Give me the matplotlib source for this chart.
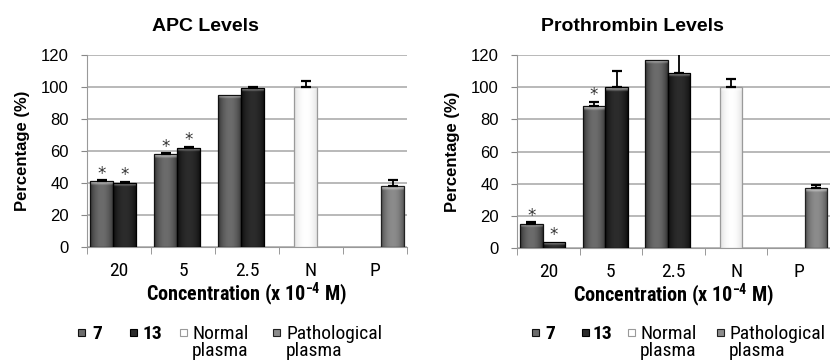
import numpy as np
import matplotlib
matplotlib.use('Agg')
import matplotlib.pyplot as plt
from matplotlib.patches import Rectangle
from matplotlib import font_manager

plt.rcParams['font.family'] = ['Liberation Sans', 'DejaVu Sans']

# pick a narrow face, like Arial Narrow in the original
NARROW_NAME = 'DejaVu Sans'
for name in ['Liberation Sans Narrow', 'Arial Narrow', 'Roboto Condensed', 'Archivo Narrow',
             'Asap Condensed', 'Open Sans Condensed']:
    try:
        font_manager.findfont(font_manager.FontProperties(family=name), fallback_to_default=False)
        NARROW_NAME = name
        break
    except ValueError:
        pass
NARROW = [NARROW_NAME, 'DejaVu Sans']

plt.rcParams['mathtext.fontset'] = 'custom'
plt.rcParams['mathtext.rm'] = NARROW_NAME + ':bold'
plt.rcParams['mathtext.it'] = NARROW_NAME + ':bold'
plt.rcParams['mathtext.bf'] = NARROW_NAME + ':bold'

# data
categories = ['20', '5', '2.5', 'N', 'P']

apc_7 = [41, 58, 95, None, None]
apc_7_err = [1, 0.6, 0, 0, 0]
apc_13 = [40, 62, 99.5, None, None]
apc_13_err = [0.8, 0.8, 0.3, 0, 0]
apc_normal = [None, None, None, 100, None]
apc_normal_err = [0, 0, 0, 3.5, 0]
apc_patho = [None, None, None, None, 38]
apc_patho_err = [0, 0, 0, 0, 4]
apc_7_sig = [True, True, False, False, False]
apc_13_sig = [True, True, False, False, False]

pro_7 = [15, 88, 117, None, None]
pro_7_err = [1, 3, 0, 0, 0]
pro_13 = [4, 100, 109, None, None]
pro_13_err = [0, 10, 13, 0, 0]
pro_normal = [None, None, None, 100, None]
pro_normal_err = [0, 0, 0, 5, 0]
pro_patho = [None, None, None, None, 37]
pro_patho_err = [0, 0, 0, 0, 2]
pro_7_sig = [True, True, False, False, False]
pro_13_sig = [True, False, False, False, False]

# series styling: (offset, center colour, edge colour, outline)
styles = {
    '7': (-0.27, '#6c6c6c', '#2c2c2c', '#111111'),
    '13': (0.09, '#2c2c2c', '#0a0a0a', '#000000'),
    'normal': (-0.08, '#ffffff', '#dcdcdc', '#9a9a9a'),
    'patho': (0.28, '#8c8c8c', '#474747', '#222222'),
}
BW = 0.36


def hex2rgb(h):
    return np.array(matplotlib.colors.to_rgb(h))


def shaded_bar(ax, x, h, center, edge, outline):
    bar = ax.bar(x, h, BW, color=center, linewidth=0, zorder=3)[0]
    t = np.linspace(0, 1, 60)
    f = np.sin(np.pi * t) ** 0.7
    c0, c1 = hex2rgb(edge), hex2rgb(center)
    row = c0[None, :] + (c1 - c0)[None, :] * f[:, None]
    nrow = 200
    ys = np.linspace(h, 0, nrow)
    img = np.repeat(row[None, :, :], nrow, axis=0)
    # light bevel at the top of each bar
    hl = np.clip(1 - (h - ys) / 2.6, 0, 1) * 0.75
    img = img + (1 - img) * hl[:, None, None]
    im = ax.imshow(img, extent=(x - BW / 2, x + BW / 2, 0, h), aspect='auto',
                   interpolation='bilinear', zorder=3.1)
    im.set_clip_path(bar)
    ax.bar(x, h, BW, facecolor='none', edgecolor=outline, linewidth=0.9, zorder=3.2)


def draw_panel(ax, title, series, sigs):
    xs = np.arange(len(categories))
    for key, vals, errs in series:
        off, center, edge, outline = styles[key]
        for i, (v, e) in enumerate(zip(vals, errs)):
            if v is None:
                continue
            x = xs[i] + off
            shaded_bar(ax, x, v, center, edge, outline)
            if e > 0:
                ax.errorbar(x, v, yerr=[[0], [e]], fmt='none', ecolor='black',
                            elinewidth=1.3, capsize=3.5, capthick=1.6, zorder=4)
    lookup = {k: (v, e) for k, v, e in series}
    for key, flags in sigs:
        off = styles[key][0]
        vals, errs = lookup[key]
        for i, s in enumerate(flags):
            if s:
                top = vals[i] + errs[i]
                ax.annotate('*', xy=(xs[i] + off, top), xytext=(0, -2),
                            textcoords='offset points', ha='center', va='bottom',
                            fontsize=12, color='#333333', family='DejaVu Sans')

    ax.set_xlim(-0.5, len(categories) - 0.5)
    ax.set_ylim(0, 120)
    ax.set_yticks(range(0, 121, 20))
    ax.set_xticks(xs)
    ax.set_xticklabels(categories, family=NARROW, fontsize=14)
    ax.set_xticks(np.arange(-0.5, len(categories)), minor=True)
    ax.tick_params(axis='x', which='major', length=0, pad=11)
    ax.tick_params(axis='x', which='minor', length=5, color='#888888')
    ax.tick_params(axis='y', length=4, color='#888888', labelsize=12, pad=9)
    ax.grid(axis='y', color='#a6a6a6', linewidth=1.1)
    ax.set_axisbelow(True)
    for s in ['top', 'right']:
        ax.spines[s].set_visible(False)
    ax.spines['left'].set_color('#999999')
    ax.spines['bottom'].set_color('#999999')
    ax.set_ylabel('Percentage (%)', fontsize=12, fontweight='bold', labelpad=8)
    ax.set_xlabel('Concentration (x 10$^{-4}$ M)', family=NARROW,
                  fontsize=14.5, fontweight='bold')
    ax.xaxis.set_label_coords(0.5, -0.175)
    ax.set_title(title, fontsize=14, fontweight='bold', pad=17)


fig = plt.figure(figsize=(8.3, 3.64), dpi=100)
ax1 = fig.add_axes([87 / 830, 117 / 364, 320 / 830, 192 / 364])
ax2 = fig.add_axes([517 / 830, 116 / 364, 313 / 830, 193 / 364])

draw_panel(ax1, 'APC Levels',
           [('7', apc_7, apc_7_err), ('13', apc_13, apc_13_err),
            ('normal', apc_normal, apc_normal_err), ('patho', apc_patho, apc_patho_err)],
           [('7', apc_7_sig), ('13', apc_13_sig)])
draw_panel(ax2, 'Prothrombin Levels',
           [('7', pro_7, pro_7_err), ('13', pro_13, pro_13_err),
            ('normal', pro_normal, pro_normal_err), ('patho', pro_patho, pro_patho_err)],
           [('7', pro_7_sig), ('13', pro_13_sig)])
ax1.title.set_position((0.37, 1.0))
ax2.title.set_position((0.37, 1.0))

# legends, drawn by hand so the two-line labels sit like the original
legend_keys = ['7', '13', 'normal', 'patho']
legend_labels = ['7', '13', 'Normal\nplasma', 'Pathological\nplasma']
legend_bold = [True, True, False, False]
legend_pos = [
    [(78, 92), (130, 142), (180, 192), (273, 286)],      # left panel
    [(532, 545), (582, 593), (628, 640), (717, 729)],    # right panel
]
for spots in legend_pos:
    for key, label, bold, (mx, tx) in zip(legend_keys, legend_labels, legend_bold, spots):
        _, center, edge, outline = styles[key]
        fig.patches.append(Rectangle((mx / 830, (364 - 336) / 364), 7 / 830, 7 / 364,
                                     facecolor=center, edgecolor=outline, linewidth=0.8,
                                     transform=fig.transFigure))
        fig.text(tx / 830, (364 - 325) / 364, label, family=NARROW, fontsize=14,
                 fontweight='bold' if bold else 'normal', va='top', ha='left',
                 linespacing=0.95)

fig.savefig('out.png', dpi=100)
